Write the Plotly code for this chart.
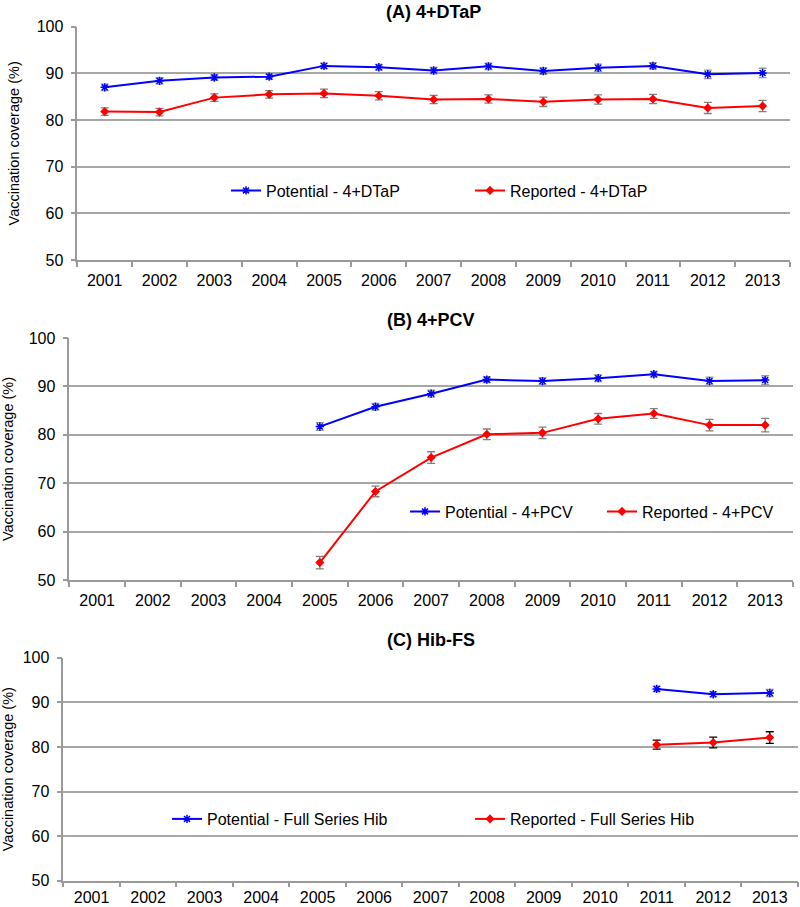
import plotly.graph_objects as go

years = [str(y) for y in range(2001, 2014)]

# Panel A: 4+DTaP
a_years = years
a_pot = [87.0, 88.4, 89.1, 89.3, 91.6, 91.3, 90.6, 91.5, 90.5, 91.2, 91.6, 89.8, 90.1]
a_pot_err = [0.7, 0.7, 0.6, 0.6, 0.6, 0.6, 0.7, 0.7, 0.7, 0.8, 0.7, 0.9, 1.0]
a_rep = [81.8, 81.7, 84.8, 85.5, 85.7, 85.2, 84.4, 84.5, 83.9, 84.4, 84.5, 82.6, 83.0]
a_rep_err = [0.8, 0.8, 0.8, 0.8, 0.9, 0.9, 0.9, 0.9, 1.0, 1.0, 1.0, 1.2, 1.2]

# Panel B: 4+PCV
b_years = years[4:]
b_pot = [81.7, 85.8, 88.5, 91.4, 91.1, 91.7, 92.5, 91.1, 91.3]
b_pot_err = [0.8, 0.7, 0.7, 0.6, 0.7, 0.7, 0.6, 0.8, 0.9]
b_rep = [53.6, 68.3, 75.3, 80.1, 80.4, 83.3, 84.4, 82.0, 82.0]
b_rep_err = [1.3, 1.1, 1.2, 1.1, 1.2, 1.1, 1.0, 1.2, 1.4]

# Panel C: Hib-FS
c_years = years[10:]
c_pot = [93.0, 91.8, 92.1]
c_pot_err = [0.6, 0.6, 0.8]
c_rep = [80.5, 81.0, 82.1]
c_rep_err = [1.0, 1.2, 1.3]

panels = [
    ("(A) 4+DTaP", a_years, a_pot, a_pot_err, a_rep, a_rep_err,
     "Potential - 4+DTaP", "Reported - 4+DTaP", "#808080"),
    ("(B) 4+PCV", b_years, b_pot, b_pot_err, b_rep, b_rep_err,
     "Potential - 4+PCV", "Reported - 4+PCV", "#808080"),
    ("(C) Hib-FS", c_years, c_pot, c_pot_err, c_rep, c_rep_err,
     "Potential - Full Series Hib", "Reported - Full Series Hib", "#000000"),
]

W, H = 800, 907
# pixel geometry of plot areas: (left, right, top(100), bottom(50))
areas = [(77.3, 790.0, 26.7, 260.0), (69.3, 793.0, 338.0, 580.0), (63.3, 798.0, 657.7, 880.7)]
# legend: (x of first line sample start, y centre, entry width)
legend_pos = [(233, 190.5, 199), (412, 511.5, 152), (174, 819, 258)]
title_y = [12, 320, 640]
xlabel_standoff = [5, 5, 1]

fig = go.Figure()
FONT = "Liberation Sans, Arial, sans-serif"

for i, (title, xs, pot, pot_e, rep, rep_e, pname, rname, rep_ecol) in enumerate(panels):
    n = "" if i == 0 else str(i + 1)
    lg = "legend" if i == 0 else f"legend{i + 1}"
    fig.add_trace(go.Scatter(
        x=xs, y=pot, mode="lines+markers", name=pname,
        xaxis="x" + n, yaxis="y" + n, legend=lg,
        line=dict(color="#0000FF", width=2),
        marker=dict(symbol="asterisk-open", size=7, color="#0000FF",
                    line=dict(color="#0000FF", width=1.5)),
        error_y=dict(type="data", array=pot_e, color="#999999", thickness=1.3, width=4),
    ))
    fig.add_trace(go.Scatter(
        x=xs, y=rep, mode="lines+markers", name=rname,
        xaxis="x" + n, yaxis="y" + n, legend=lg,
        line=dict(color="#FF0000", width=2),
        marker=dict(symbol="diamond", size=7, color="#FF0000"),
        error_y=dict(type="data", array=rep_e, color=rep_ecol, thickness=1.3, width=4),
    ))
    l, r, t, b = areas[i]
    xd = [l / W, r / W]
    yd = [1 - b / H, 1 - t / H]
    fig.update_layout(**{
        "xaxis" + n: dict(domain=xd, type="category", categoryorder="array",
                          categoryarray=years, range=[-0.5, 12.5],
                          showgrid=False, showline=True, linecolor="#9a9a9a", linewidth=1.5,
                          ticks="outside", tickson="boundaries", ticklen=5,
                          tickcolor="#9a9a9a", tickwidth=1.5,
                          ticklabelstandoff=xlabel_standoff[i],
                          tickfont=dict(size=16, color="#000000", family=FONT),
                          anchor="y" + n, fixedrange=True, automargin=False),
        "yaxis" + n: dict(domain=yd, range=[50, 100], dtick=10,
                          showgrid=True, gridcolor="#a6a6a6", gridwidth=1.5,
                          showline=True, linecolor="#9a9a9a", linewidth=1.5,
                          ticks="outside", ticklen=5, tickcolor="#9a9a9a", tickwidth=1.5,
                          ticklabelstandoff=4,
                          tickfont=dict(size=16, color="#000000", family=FONT),
                          title=dict(text="Vaccination coverage (%)",
                                     font=dict(size=14.5, color="#000000", family=FONT),
                                     standoff=14),
                          zeroline=False, anchor="x" + n, fixedrange=True, automargin=False),
    })
    lx, ly, ew = legend_pos[i]
    fig.update_layout(**{
        lg: dict(orientation="h", x=(lx - 7) / W, y=1 - ly / H, xanchor="left", yanchor="middle",
                 xref="paper", yref="paper", bgcolor="rgba(0,0,0,0)",
                 entrywidth=ew, entrywidthmode="pixels", borderwidth=0,
                 font=dict(size=16, color="#000000", family=FONT),
                 traceorder="normal")
    })
    fig.add_annotation(text="<b>" + title + "</b>", x=(l + r) / 2 / W,
                       y=1 - title_y[i] / H, xref="paper", yref="paper",
                       showarrow=False, xanchor="center", yanchor="middle",
                       font=dict(size=18, color="#000000", family=FONT))

fig.update_layout(width=W, height=H, margin=dict(l=0, r=0, t=0, b=0, autoexpand=False),
                  paper_bgcolor="white", plot_bgcolor="white", showlegend=True)

fig.write_html("out.html", config={"displayModeBar": False},
               post_script="document.body.style.margin='0';document.body.style.overflow='hidden';")
